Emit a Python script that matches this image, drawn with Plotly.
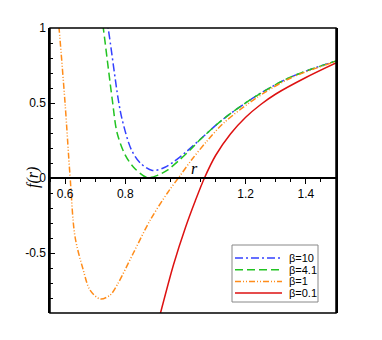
import plotly.graph_objects as go

# curves
r_b10 = [0.735, 0.743, 0.777, 0.79, 0.82, 0.85, 0.89, 0.93, 0.96, 1.0, 1.05, 1.127, 1.24, 1.35, 1.5]
f_b10 = [1.08, 1.0, 0.52, 0.387, 0.19, 0.1, 0.05, 0.07, 0.107, 0.17, 0.26, 0.395, 0.553, 0.673, 0.78]

r_b41 = [0.72, 0.727, 0.757, 0.773, 0.80, 0.83, 0.873, 0.91, 0.94, 0.98, 1.017, 1.05, 1.127, 1.24, 1.35, 1.5]
f_b41 = [1.1, 1.0, 0.52, 0.3, 0.153, 0.067, 0.003, 0.02, 0.053, 0.12, 0.19, 0.258, 0.395, 0.553, 0.673, 0.78]

r_b1 = [0.575, 0.58, 0.6, 0.617, 0.633, 0.66, 0.683, 0.717, 0.75, 0.773, 0.827, 0.883, 0.94, 0.98, 1.02, 1.073, 1.127, 1.24, 1.35, 1.5]
f_b1 = [1.1, 1.0, 0.5, 0.0, -0.39, -0.61, -0.747, -0.807, -0.78, -0.713, -0.5, -0.28, -0.1, 0.01, 0.12, 0.25, 0.367, 0.54, 0.667, 0.777]

r_b01 = [0.905, 0.917, 0.96, 1.0, 1.033, 1.063, 1.1, 1.15, 1.2, 1.25, 1.3, 1.4, 1.5]
f_b01 = [-0.99, -0.9, -0.58, -0.33, -0.15, 0.0, 0.15, 0.295, 0.405, 0.49, 0.56, 0.67, 0.767]

names = ['β=10', 'β=4.1', 'β=1', 'β=0.1']
colors = ['#3340ff', '#22c322', '#ff8c1a', '#dd1111']
dashes = ['8px,3px,2px,3px', '8px,4px', '6px,2px,1px,2px,1px,2px', 'solid']

ytick_vals = [-0.5, 0, 0.5, 1]
ytick_text = ['-0.5', '0', '0.5', '1']
xtick_vals = [0.6, 0.8, 1.2, 1.4]
xtick_text = ['0.6', '0.8', '1.2', '1.4']

fig = go.Figure()
for r, f, n, c, d in zip([r_b10, r_b41, r_b1, r_b01], [f_b10, f_b41, f_b1, f_b01], names, colors, dashes):
    fig.add_trace(go.Scatter(x=r, y=f, name=n, mode='lines', showlegend=False,
                             line=dict(color=c, width=1.5, dash=d, shape='spline', smoothing=0.9)))

ymin, ymax = -0.9, 1.0
fig.update_layout(
    width=382, height=340,
    margin=dict(l=42, r=54, t=20, b=35, autoexpand=False),
    plot_bgcolor='white', paper_bgcolor='white',
    font=dict(family='Liberation Sans, Arial', size=12, color='black'),
    xaxis=dict(range=[0.55, 1.5], anchor='free', position=(0 - ymin) / (ymax - ymin),
               showgrid=False, zeroline=False, showline=True, linecolor='black', linewidth=1.5,
               tickvals=xtick_vals, ticktext=xtick_text, ticks='outside', ticklen=5,
               tickcolor='black', minor=dict(dtick=0.05, ticks='outside', ticklen=3, tickcolor='black')),
    yaxis=dict(range=[ymin, ymax], showgrid=False, zeroline=False, showline=True, linecolor='black',
               linewidth=1.5, mirror=True, tickvals=ytick_vals, ticktext=ytick_text,
               ticks='inside', ticklen=5, tickcolor='black', automargin=False,
               minor=dict(dtick=0.1, ticks='inside', ticklen=3, tickcolor='black')),
)

# frame
fig.add_shape(type='rect', xref='paper', yref='paper', x0=0, y0=0, x1=1, y1=1,
              line=dict(color='black', width=1.5))

# legend drawn by hand so it stays compact
def px(x):
    return (x - 50) / 286

def py(y):
    return (313 - y) / 285

fig.add_shape(type='rect', xref='paper', yref='paper', x0=px(232), x1=px(318), y0=py(302), y1=py(245),
              line=dict(color='#888888', width=1), fillcolor='white', layer='above')
for i, (n, c, d) in enumerate(zip(names, colors, dashes)):
    yy = 258 + i * 11.7
    fig.add_shape(type='line', xref='paper', yref='paper', x0=px(235), x1=px(282), y0=py(yy), y1=py(yy),
                  line=dict(color=c, width=1.5, dash=d), layer='above')
    fig.add_annotation(text=n, xref='paper', yref='paper', x=px(287), y=py(yy), xanchor='left',
                       yanchor='middle', showarrow=False, font=dict(size=11))

fig.add_annotation(text='<i>f(r)</i>', xref='paper', yref='paper', x=px(22), y=py(178),
                   textangle=-90, showarrow=False,
                   font=dict(family='Liberation Serif, Times New Roman', size=16))
fig.add_annotation(text='<i>r</i>', x=1.03, y=0.065, showarrow=False,
                   font=dict(family='Liberation Serif, Times New Roman', size=16))

fig.write_html("out.html")
